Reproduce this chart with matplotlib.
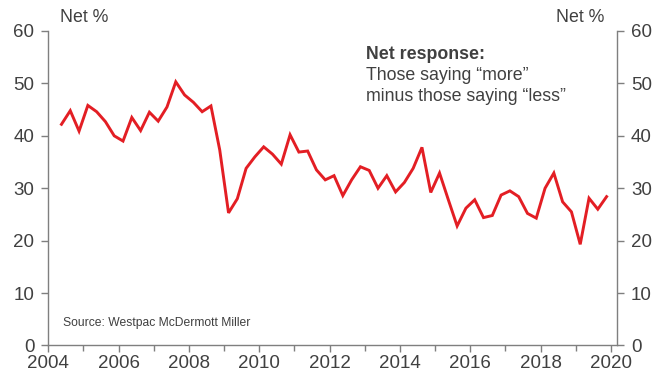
import numpy as np
import matplotlib.pyplot as plt

plt.rcParams['font.family'] = ['Liberation Sans', 'DejaVu Sans']

# Quarterly net response, 2004 Q2 to 2019 Q4
first_year, first_qtr = 2004, 2
net_response = [42.2, 44.8, 40.9, 45.8, 44.6, 42.7, 40.0, 39.0, 43.5, 41.0,
                44.5, 42.8, 45.5, 50.3, 47.8, 46.4, 44.6, 45.7, 37.3, 25.3,
                28.0, 33.8, 36.0, 37.9, 36.5, 34.6, 40.2, 36.9, 37.1, 33.5,
                31.6, 32.4, 28.6, 31.6, 34.1, 33.4, 30.0, 32.4, 29.3, 31.1,
                33.8, 37.8, 29.2, 32.9, 27.8, 22.8, 26.2, 27.8, 24.4, 24.8,
                28.7, 29.5, 28.4, 25.2, 24.3, 30.0, 32.9, 27.4, 25.5, 19.3,
                28.1, 26.0, 28.4]
year_ticks = [2004, 2006, 2008, 2010, 2012, 2014, 2016, 2018, 2020]
value_ticks = [0, 10, 20, 30, 40, 50, 60]

# plot each quarter at its mid-point
qtr_index = np.arange(len(net_response)) + (first_qtr - 1)
dates = first_year + qtr_index / 4 + 0.125

grey = '#7f7f7f'
text_col = '#404040'

fig = plt.figure(figsize=(6.67, 3.78), dpi=100)
ax = fig.add_axes([0.0724, 0.086, 0.8526, 0.832])
ax.plot(dates, net_response, color='#e31e24', lw=2.1, solid_joinstyle='miter')

ax.set_xlim(2004, 2020.17)
ax.set_ylim(0, 60)
ax.set_xticks(year_ticks)
ax.set_xticks(np.arange(2005, 2021, 2), minor=True)
ax.set_yticks(value_ticks)

ax.spines['top'].set_visible(False)
for side in ['left', 'right', 'bottom']:
    ax.spines[side].set_color(grey)
    ax.spines[side].set_linewidth(1)

ax.tick_params(axis='both', which='both', direction='out', color=grey,
               width=1, labelcolor=text_col, labelsize=13.5)
ax.tick_params(axis='x', which='major', length=5, pad=1.5)
ax.tick_params(axis='x', which='minor', length=4)
ax.tick_params(axis='y', length=5, pad=5, left=True, right=True,
               labelleft=True, labelright=True)

fig.text(0.09, 0.955, 'Net %', fontsize=12.8, color=text_col, va='center')
fig.text(0.906, 0.955, 'Net %', fontsize=12.8, color=text_col,
         va='center', ha='right')

# note explaining the measure
note_x = 0.558
ax.text(note_x, 0.924, 'Net response:', transform=ax.transAxes, fontsize=12.8,
        fontweight='bold', color=text_col, va='center')
ax.text(note_x, 0.858, 'Those saying \u201cmore\u201d', transform=ax.transAxes,
        fontsize=12.8, color=text_col, va='center')
ax.text(note_x, 0.792, 'minus those saying \u201cless\u201d', transform=ax.transAxes,
        fontsize=12.8, color=text_col, va='center')

ax.text(0.025, 0.07, 'Source: Westpac McDermott Miller', transform=ax.transAxes,
        fontsize=8.7, color=text_col, va='center')

fig.savefig('out.png', dpi=100)
